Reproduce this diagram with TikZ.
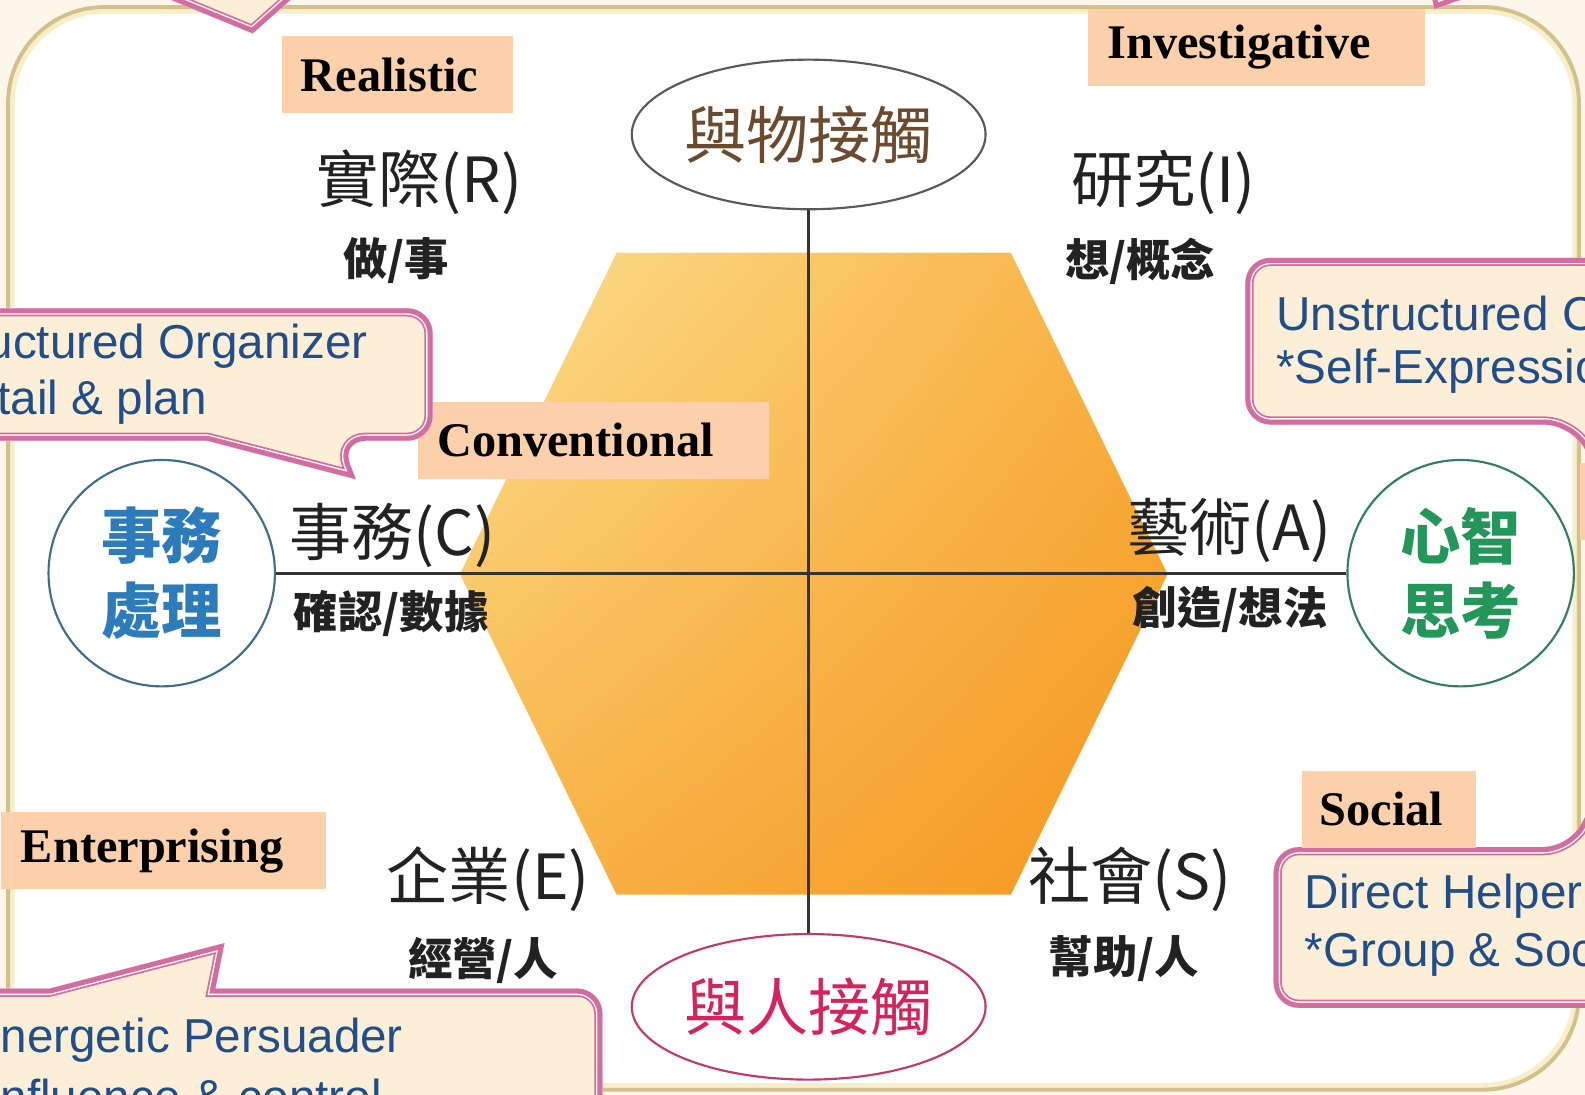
\documentclass[tikz,border=0pt]{standalone}
\usepackage{fontspec}
\setmainfont{Liberation Serif}
\newfontfamily\cjk{Noto Sans CJK TC}
\newfontfamily\arialfont{Liberation Sans}
\usepackage{xcolor}
\usetikzlibrary{shapes.geometric,shadings}

\definecolor{peach}{HTML}{FCD0AB}
\definecolor{pinkline}{HTML}{D26DA2}
\definecolor{creamfill}{HTML}{FDEFD7}
\definecolor{creamline}{HTML}{FFF8EC}
\definecolor{noteblue}{HTML}{1F4E8A}
\definecolor{frametan}{HTML}{D3C08A}
\definecolor{frameyel}{HTML}{F6EFC9}
\definecolor{paper}{HTML}{FCF7EA}
\definecolor{officeblue}{HTML}{2C7BBA}
\definecolor{officeline}{HTML}{3F6E8A}
\definecolor{mindgreen}{HTML}{23965A}
\definecolor{mindline}{HTML}{2F7F62}
\definecolor{thingbrown}{HTML}{6B4A2E}
\definecolor{peoplered}{HTML}{D5235E}
\definecolor{peopleline}{HTML}{C23A6A}
\definecolor{inkgray}{HTML}{222222}
\definecolor{hexul}{HTML}{FCE090}
\definecolor{hexur}{HTML}{F8B040}
\definecolor{hexll}{HTML}{F8B448}
\definecolor{hexlr}{HTML}{F5961E}

\newcommand\callout[1]{%
  \fill[creamfill] #1;
  \begin{scope}
    \clip #1;
    \draw[pinkline, line width=4.6pt] #1;
    \draw[creamline, line width=3.6pt] #1;
    \draw[pinkline, line width=2.8pt] #1;
  \end{scope}}

\begin{document}
\begin{tikzpicture}[x=0.1mm,y=-0.1mm,
    tag/.style={fill=peach,anchor=north west,inner xsep=1.9mm,inner ysep=0pt,
      minimum height=7.6mm,align=left,font=\bfseries\fontsize{13.6}{16}\selectfont},
    big/.style={text=inkgray,font=\cjk\fontsize{17.5}{20}\selectfont},
    small/.style={text=inkgray,font=\cjk\bfseries\fontsize{12.5}{15}\selectfont},
    note/.style={text=noteblue,anchor=west,inner sep=0pt,font=\arialfont\fontsize{13.4}{16}\selectfont},
    axis/.style={draw=black!80,line width=0.9pt}]
  \useasboundingbox (0,0) rectangle (1568,1083);
  \clip (0,0) rectangle (1568,1083);
  \fill[paper] (0,0) rectangle (1568,1083);
  \fill[white] [rounded corners=9.5mm] (8,7) rectangle (1562,1078);
  \draw[frameyel, line width=1.4pt, rounded corners=9.2mm] (12,11) rectangle (1558,1074);
  \draw[frametan, line width=1.1pt, rounded corners=9.5mm] (8,7) rectangle (1562,1078);

  \shade[upper left=hexul, upper right=hexur, lower left=hexll, lower right=hexlr]
    (610,250) -- (1000,250) -- (1155,568) -- (1000,885) -- (610,885) -- (455,568) -- cycle;

  \node[ellipse, draw=black!65, fill=white, line width=0.6pt, inner sep=0pt,
    minimum width=35mm, minimum height=14.8mm, text=thingbrown,
    font=\cjk\fontsize{17.5}{20}\selectfont] (things) at (800,133) {與物接觸};
  \node[ellipse, draw=peopleline, fill=white, line width=0.6pt, inner sep=0pt,
    minimum width=35mm, minimum height=14.4mm, text=peoplered,
    font=\cjk\fontsize{17.5}{20}\selectfont] (people) at (800,996) {與人接觸};
  \node[circle, draw=officeline, fill=white, line width=0.6pt, minimum size=22.4mm,
    align=center, text=officeblue,
    font=\cjk\bfseries\fontsize{17}{21}\selectfont] (office) at (160,567) {事務\\處理};
  \node[circle, draw=mindline, fill=white, line width=0.6pt, minimum size=22.4mm,
    align=center, text=mindgreen,
    font=\cjk\bfseries\fontsize{17}{21}\selectfont] (mind) at (1445,567) {心智\\思考};
  \draw[axis] (things.south) -- (people.north);
  \draw[axis] (office.east) -- (mind.west);

  \node[big] (realR) at (415,180) {實際(R)};
  \node[small] (realsub) at (392,258) {做/事};
  \node[big] (invI) at (1151,180) {研究(I)};
  \node[small] (invsub) at (1128,258) {想/概念};
  \node[big] (convC) at (388,530) {事務(C)};
  \node[small] (convsub) at (387,607) {確認/數據};
  \node[big] (artA) at (1216,525) {藝術(A)};
  \node[small] (artsub) at (1217,603) {創造/想法};
  \node[big] (entE) at (483,870) {企業(E)};
  \node[small] (entsub) at (478,950) {經營/人};
  \node[big] (socS) at (1118,870) {社會(S)};
  \node[small] (socsub) at (1112,948) {幫助/人};

  \node[tag, text width=19.1mm] (realistic) at (278,35) {Realistic};
  \node[tag, text width=29.5mm] (investigative) at (1076,8) {Investigative};
  \node[tag, text width=30.9mm] (conventional) at (413,397) {Conventional};
  \node[tag, text width=28.2mm, inner xsep=2mm] (enterprising) at (0,803) {Enterprising};

  \callout{(60,-90) [rounded corners=2.5mm] -- (420,-90) -- (420,-6) [sharp corners] -- (294,-6) -- (250,33) -- (155,-6) -- (60,-6) -- cycle}
  \callout{(1300,-90) [rounded corners=2.5mm] -- (1640,-90) -- (1640,-6) -- (1460,-6) [sharp corners] -- (1419,9) -- (1416,-6) -- (1300,-6) -- cycle}
  \callout{(-40,305) [rounded corners=2.5mm] -- (428,305) -- (428,436) -- (337,436) [sharp corners] -- (352,474) -- (205,436) -- (-40,436) -- cycle}
  \callout{(1640,255) [rounded corners=2.5mm] -- (1232,255) -- (1232,420) -- (1553,420) [sharp corners] -- (1590,480) -- (1640,480) -- cycle}
  \callout{(1640,997) [rounded corners=2.5mm] -- (1260,997) -- (1260,838) -- (1552,838) [sharp corners] -- (1578,790) -- (1640,790) -- cycle}
  \callout{(-40,1130) -- (-40,978) -- (49,978) -- (222,933) -- (213,978) [rounded corners=2.5mm] -- (596,978) -- (596,1130) -- cycle}
  \fill[peach] (1563,458) rectangle (1580,534);

  \node[note] (organizer) at (-14,342) {uctured Organizer};
  \node[note] (detail) at (-3,398) {tail \& plan};
  \node[note] (unstructured) at (1262,310) {Unstructured C};
  \node[note] (selfexp) at (1262,367) {*Self-Expressio};
  \node[note] (helper) at (1290,887) {Direct Helper};
  \node[note] (group) at (1290,945) {*Group \& Soc};
  \node[note] (persuader) at (0,1029) {nergetic Persuader};
  \node[note] (influence) at (0,1085) {nfluence \& control};

  \node[tag, text width=13.6mm, inner xsep=1.8mm] (social) at (1287,762) {Social};
\end{tikzpicture}
\end{document}
